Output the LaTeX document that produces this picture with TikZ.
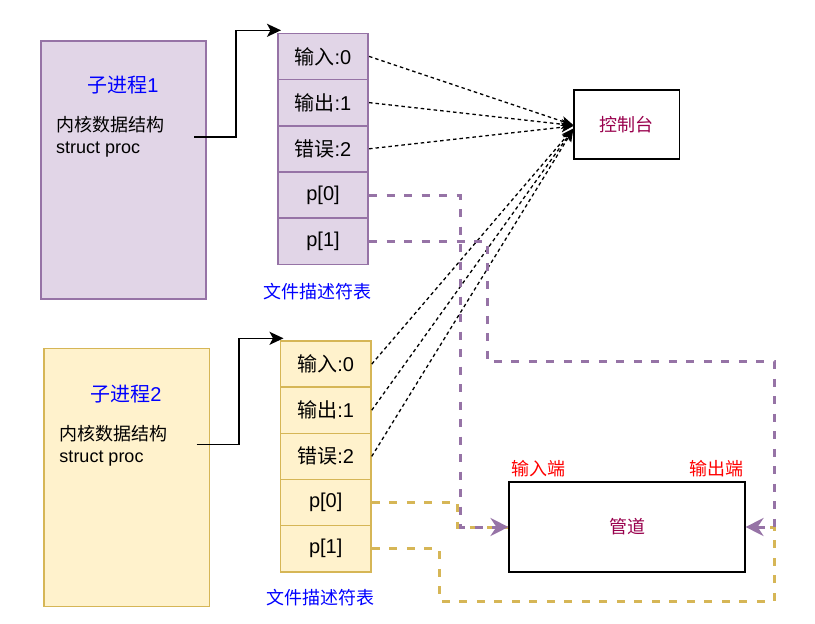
\documentclass[tikz,border=0pt]{standalone}
\usepackage{fontspec}
\setmainfont{Liberation Sans}
\newfontfamily\cjk{Noto Sans CJK SC}
\usetikzlibrary{arrows.meta,calc}
\definecolor{pfill}{HTML}{E1D5E7}
\definecolor{pline}{HTML}{9673A6}
\definecolor{yfill}{HTML}{FFF2CC}
\definecolor{yline}{HTML}{D6B656}
\definecolor{mtext}{HTML}{99004D}
\definecolor{btext}{HTML}{0000FF}
\definecolor{rtext}{HTML}{FF0000}
\begin{document}
\begin{tikzpicture}[x=1pt,y=-1pt,
  fs/.style={font=\fontsize{18}{22}\selectfont},
  fl/.style={font=\fontsize{20}{24}\selectfont},
  procbox/.style={line width=1.6pt, minimum width=165.3pt, minimum height=258.3pt, inner sep=0pt},
  cellbox/.style={line width=1.6pt, minimum width=90.5pt, minimum height=46.2pt, inner sep=0pt, fl},
  purp/.style={draw=pline, fill=pfill},
  yell/.style={draw=yline, fill=yfill},
  plainbox/.style={draw=black, line width=1.6pt, inner sep=0pt, fill=white},
  solidarrow/.style={draw=black, line width=1.6pt, -{Stealth[length=14pt,width=13pt,inset=3.5pt]}},
  dashline/.style={draw=black, line width=1.3pt, dash pattern=on 3.5pt off 3pt, shorten >=8pt},
  btip/.style={draw=black, line width=1.3pt, -{Stealth[length=12pt,width=10pt,inset=3pt]}},
  pdash/.style={draw=pline, line width=3pt, dash pattern=on 8pt off 9.5pt, shorten >=10pt},
  ptip/.style={draw=pline, line width=3pt, -{Stealth[length=18pt,width=18pt,inset=6pt]}},
  ydash/.style={draw=yline, line width=3pt, dash pattern=on 8pt off 9.5pt},
  lbl/.style={inner sep=0pt, fs}
]
\useasboundingbox (0,0) rectangle (815,624);

% process 1
\node[procbox, purp] (p1) at (123.4,169.9) {};
\node[inner sep=0pt, fl, text=btext] (p1t) at (123,85.5) {{\cjk 子进程}1};
\node[inner sep=0pt, fs, align=left, anchor=west] (p1k) at (56,137) {{\cjk 内核数据结构}\\struct proc};

% fd table 1
\node[cellbox, purp] (a0) at (323,56.4) {{\cjk 输入}:0};
\node[cellbox, purp] (a1) at (323,102.6) {{\cjk 输出}:1};
\node[cellbox, purp] (a2) at (323,148.8) {{\cjk 错误}:2};
\node[cellbox, purp] (a3) at (323,195) {p[0]};
\node[cellbox, purp] (a4) at (323,241.2) {p[1]};
\node[lbl, text=btext] (t1) at (317,292) {\cjk 文件描述符表};

% process 2
\node[procbox, yell] (p2) at (126.7,477.5) {};
\node[inner sep=0pt, fl, text=btext] (p2t) at (126,394.5) {{\cjk 子进程}2};
\node[inner sep=0pt, fs, align=left, anchor=west] (p2k) at (59.3,445.5) {{\cjk 内核数据结构}\\struct proc};

% fd table 2
\node[cellbox, yell] (b0) at (325.7,364.1) {{\cjk 输入}:0};
\node[cellbox, yell] (b1) at (325.7,410.2) {{\cjk 输出}:1};
\node[cellbox, yell] (b2) at (325.7,456.4) {{\cjk 错误}:2};
\node[cellbox, yell] (b3) at (325.7,502.5) {p[0]};
\node[cellbox, yell] (b4) at (325.7,548.7) {p[1]};
\node[lbl, text=btext] (t2) at (320.3,598) {\cjk 文件描述符表};

% console
\node[plainbox, minimum width=105.3pt, minimum height=69pt, text=mtext, fs] (con) at (626.7,124.5) {\cjk 控制台};

% pipe
\node[plainbox, minimum width=235.5pt, minimum height=90pt, text=mtext, fs] (pipe) at (627,527) {\cjk 管道};
\node[lbl, text=rtext] (pin) at (538.3,469) {\cjk 输入端};
\node[lbl, text=rtext] (pout) at (716.7,469) {\cjk 输出端};

% arrows from processes to tables
\coordinate (s1) at (194.3,137);
\coordinate (e1) at (281,30.3);
\draw[solidarrow] (s1) -- (236,137) -- (236,30.3) -- (e1);
\coordinate (s2) at (196.7,444.3);
\coordinate (e2) at (283.5,338.3);
\draw[solidarrow] (s2) -- (239,444.3) -- (239,338.3) -- (e2);

% dashed arrows to console
\coordinate (c0) at ([yshift=-0.5pt]con.west);
\coordinate (c1) at ([yshift=-1pt]con.west);
\coordinate (c2) at ([yshift=-1.5pt]con.west);
\coordinate (c3) at ([yshift=-4pt]con.west);
\coordinate (c4) at ([yshift=-4.5pt]con.west);
\coordinate (c5) at ([yshift=-5pt]con.west);
\foreach \s/\t in {a0/c0,a1/c1,a2/c2,b0/c3,b1/c4,b2/c5}{
  \draw[dashline] (\s.east) -- (\t);
  \draw[btip] ($(\t)!9pt!(\s.east)$) -- (\t);
}

% yellow pipe connections
\draw[ydash] (b3.east) -- (457.5,502.5) -- (457.5,527) -- (pipe.west);
\draw[ydash] (b4.east) -- (439,548.7) -- (439,601) -- (774,601) -- (774,527) -- (pipe.east);

% purple pipe connections
\draw[pdash] (a3.east) -- (460,195) -- (460,527) -- (pipe.west);
\draw[ptip] ([xshift=-14pt]pipe.west) -- (pipe.west);
\draw[pdash] (a4.east) -- (487,241.2) -- (487,361.5) -- (774,361.5) -- (774,527) -- (pipe.east);
\draw[ptip] ([xshift=14pt]pipe.east) -- (pipe.east);
\end{tikzpicture}
\end{document}
